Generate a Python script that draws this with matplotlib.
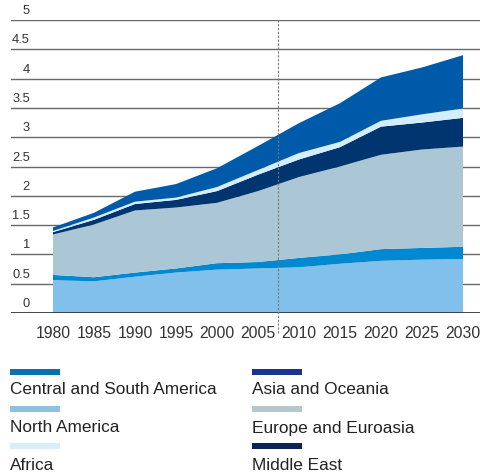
import numpy as np
import matplotlib
matplotlib.use("Agg")
import matplotlib.pyplot as plt
from matplotlib.patches import Rectangle

plt.rcParams['font.family'] = ['Liberation Sans', 'DejaVu Sans']

years = [1980, 1985, 1990, 1995, 2000, 2005, 2010, 2015, 2020, 2025, 2030]
north_america = [0.56, 0.54, 0.62, 0.69, 0.74, 0.76, 0.78, 0.84, 0.89, 0.91, 0.92]
central_south_america = [0.09, 0.07, 0.07, 0.07, 0.11, 0.11, 0.16, 0.16, 0.20, 0.20, 0.21]
europe_euroasia = [0.69, 0.90, 1.06, 1.04, 1.03, 1.21, 1.38, 1.50, 1.61, 1.68, 1.71]
middle_east = [0.04, 0.08, 0.11, 0.13, 0.20, 0.28, 0.30, 0.33, 0.48, 0.46, 0.49]
africa = [0.02, 0.04, 0.04, 0.04, 0.07, 0.08, 0.11, 0.09, 0.10, 0.14, 0.16]
asia_oceania = [0.06, 0.08, 0.17, 0.23, 0.32, 0.41, 0.51, 0.66, 0.74, 0.80, 0.91]
y_ticks = [0, 0.5, 1, 1.5, 2, 2.5, 3, 3.5, 4, 4.5, 5]
today = 2007.5

fill_colors = ['#80c0ea', '#0089d1', '#abc6d4', '#00356f', '#d4edfa', '#005aaa']

W, H = 480, 476
fig = plt.figure(figsize=(W / 100, H / 100), dpi=100)
ax = fig.add_axes([11 / W, (H - 313) / H, (W - 11) / W, 293 / H])

# gridlines under the areas
for v in y_ticks[1:]:
    ax.axhline(v, color='#6a6a6a', lw=1.0, zorder=0)
    ax.text((30 - 11) / (W - 11), v + 0.05, '{:g}'.format(v),
            transform=ax.get_yaxis_transform(), ha='right', va='bottom',
            fontsize=9.3, color='#333333')
ax.text((30 - 11) / (W - 11), 0.05, '0', transform=ax.get_yaxis_transform(),
        ha='right', va='bottom', fontsize=9.3, color='#333333')

ax.stackplot(years, north_america, central_south_america, europe_euroasia,
             middle_east, africa, asia_oceania, colors=fill_colors,
             linewidth=0, zorder=1)

ax.axhline(0, color='#333333', lw=2, zorder=3)
ax.axvline(today, ymin=-0.068, ymax=1, color='#777777', lw=0.8,
           ls=(0, (2, 1.5)), zorder=4, clip_on=False)

ax.set_xlim(1980 - 42 / 8.2, 2030 + 17 / 8.2)
ax.set_ylim(0, 5)
ax.set_xticks(years)
ax.set_xticklabels([str(y) for y in years], fontsize=11.3, color='#333333')
ax.tick_params(axis='x', length=0, pad=9)
ax.set_yticks([])
for s in ax.spines.values():
    s.set_visible(False)

# legend, two columns
legend_items = [
    ('Central and South America', '#0a70b0', 10, 372, 390),
    ('North America', '#8dc1e0', 10, 409, 428),
    ('Africa', '#d8eff7', 10, 446, 465),
    ('Asia and Oceania', '#173591', 252, 372, 390),
    ('Europe and Euroasia', '#b4c7cd', 252, 409, 428),
    ('Middle East', '#0d2358', 252, 446, 465),
]
for label, col, x0, ys, yt in legend_items:
    fig.add_artist(Rectangle((x0 / W, 1 - (ys + 3) / H), 50 / W, 6 / H,
                             transform=fig.transFigure, color=col, lw=0))
    fig.text(x0 / W, 1 - yt / H, label, fontsize=12.4, color='#222222',
             ha='left', va='center')

fig.savefig('out.png', dpi=100)
